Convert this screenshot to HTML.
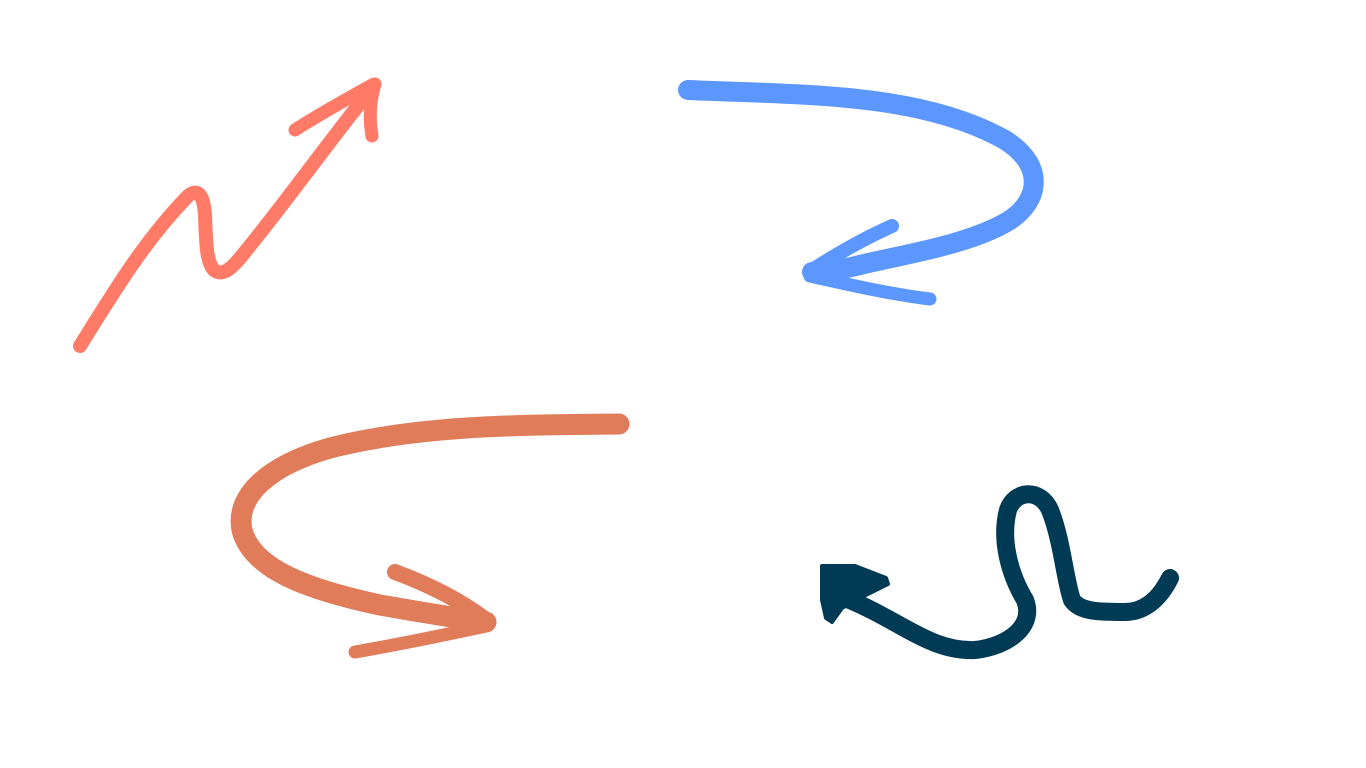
<!DOCTYPE html>
<html>
<head>
<meta charset="utf-8">
<style>
html,body{margin:0;padding:0;background:#fff;width:1366px;height:768px;overflow:hidden;}
svg{display:block;}
</style>
</head>
<body>
<svg width="1366" height="768" viewBox="0 0 1366 768">
  <g fill="none" stroke="#FF7B67" stroke-linecap="round" stroke-linejoin="round">
    <path d="M80,346 C115,290 145,240 188,196 C200,186 204,200 205,215 C206,240 206,262 214,270 C222,276 230,270 240,258 C280,210 330,140 372,88" stroke-width="14"/>
    <path d="M374,84 C345,100 318,115 295,130" stroke-width="13"/>
    <path d="M375,84 C370,100 369,118 372,136" stroke-width="13"/>
  </g>
  <g fill="none" stroke="#5B97FF" stroke-linecap="round" stroke-linejoin="round">
    <path d="M688,90 C800,95 920,92 1005,140 C1045,165 1040,200 1010,220 C970,245 900,255 860,265 C840,270 825,272 812,272" stroke-width="20"/>
    <path d="M812,270 C840,252 865,238 892,226" stroke-width="14"/>
    <path d="M810,276 C850,285 895,295 930,299" stroke-width="13"/>
  </g>
  <g fill="none" stroke="#E17C5A" stroke-linecap="round" stroke-linejoin="round">
    <path d="M619,424 C520,425 420,425 330,448 C270,465 235,495 242,530 C252,570 310,590 380,605 C420,612 455,618 486,622" stroke-width="21"/>
    <path d="M486,620 C460,600 430,585 395,572" stroke-width="16"/>
    <path d="M486,626 C440,636 395,645 355,652" stroke-width="13"/>
  </g>
  <g fill="none" stroke="#003A54" stroke-linecap="round" stroke-linejoin="round">
    <path d="M845,598 C900,620 930,652 975,650 C1010,646 1035,625 1025,600 C1010,575 1000,540 1008,510 C1015,490 1040,488 1050,510 C1062,540 1065,580 1072,600 C1080,612 1100,612 1125,612 C1145,612 1160,598 1170,578" stroke-width="18"/>
    <path d="M822,566 L855,566 L886,578 L888,584 L860,598 L842,608 L832,622 L826,618 L822,600 Z" fill="#003A54" stroke-width="4"/>
  </g>
</svg>
</body>
</html>
